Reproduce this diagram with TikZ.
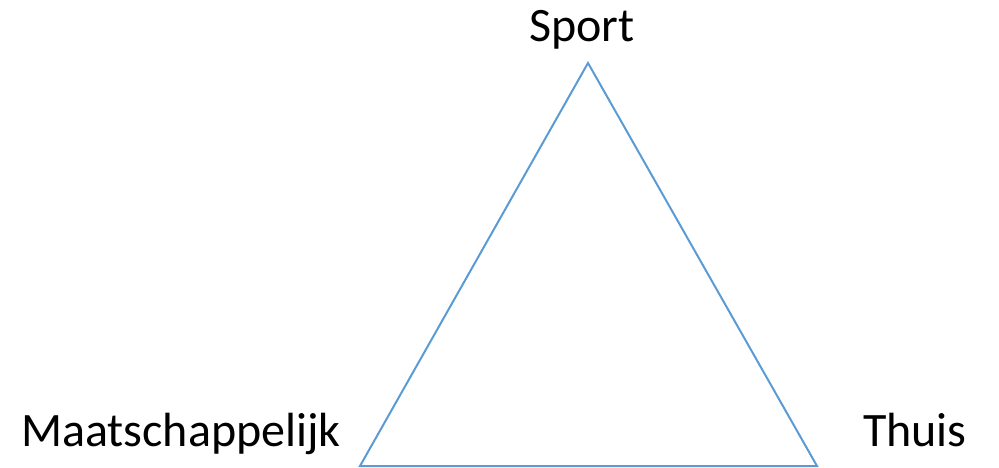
\documentclass[tikz,border=0pt]{standalone}
\usepackage{fontspec}
\setmainfont{Carlito}
\begin{document}
\begin{tikzpicture}[x=1pt,y=-1pt,
  lbl/.style={inner sep=0pt, font=\fontsize{48}{58}\selectfont},
  tri/.style={draw={rgb,255:red,91;green,155;blue,213}, line width=2pt, line join=miter}]
\useasboundingbox (0,0) rectangle (999,468);
\coordinate (top) at (588,63);
\coordinate (bl) at (360,466);
\coordinate (br) at (817,466);
\draw[tri] (top) -- (bl) -- (br) -- cycle;
\node[lbl, anchor=base] (sport) at (582,42) {Sport};
\node[lbl, anchor=base west] (maat) at (21,446) {Maatschappelijk};
\node[lbl, anchor=base west] (thuis) at (863,446) {Thuis};
\end{tikzpicture}
\end{document}
